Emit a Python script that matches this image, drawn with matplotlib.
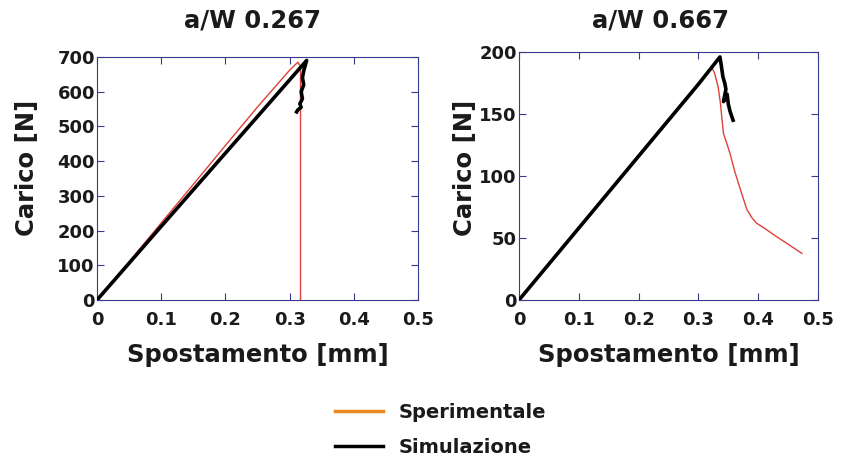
import matplotlib
matplotlib.use("Agg")
import matplotlib.pyplot as plt
from matplotlib.lines import Line2D

plt.rcParams['font.family'] = ['DejaVu Sans']
plt.rcParams['font.weight'] = 'bold'

# a/W 0.267
exp1_x = [0, 0.05, 0.1, 0.15, 0.2, 0.25, 0.3, 0.31, 0.313, 0.317, 0.317]
exp1_y = [0, 110, 222, 333, 445, 556, 662, 680, 685, 672, 0]
sim1_x = [0, 0.1, 0.2, 0.3, 0.3265, 0.322, 0.320, 0.322, 0.318, 0.320, 0.316, 0.318, 0.313, 0.311]
sim1_y = [0, 212, 423, 634, 690, 660, 640, 620, 600, 580, 565, 555, 548, 542]

# a/W 0.667
exp2_x = [0, 0.05, 0.1, 0.2, 0.3, 0.322, 0.327, 0.333, 0.337, 0.339, 0.342, 0.347, 0.353,
          0.36, 0.367, 0.375, 0.381, 0.39, 0.397, 0.41, 0.431, 0.45, 0.473]
exp2_y = [0, 29, 58, 117, 175, 188, 183, 172, 158, 148, 134, 127, 118,
          105, 94, 82, 73, 66, 62, 58, 51, 45, 37.6]
sim2_x = [0, 0.1, 0.2, 0.3, 0.336, 0.338, 0.341, 0.344, 0.346, 0.342, 0.348, 0.350, 0.353, 0.358]
sim2_y = [0, 58, 116, 174, 196, 190, 180, 175, 170, 160, 166, 158, 152, 145]

titles = ['a/W 0.267', 'a/W 0.667']
xticks = [0, 0.1, 0.2, 0.3, 0.4, 0.5]
xticklabels = ['0', '0.1', '0.2', '0.3', '0.4', '0.5']
yticks1 = [0, 100, 200, 300, 400, 500, 600, 700]
yticks2 = [0, 50, 100, 150, 200]
legend_labels = ['Sperimentale', 'Simulazione']

red = '#e0403a'
frame = '#3a3a8c'
text_col = '#1a1a1a'

fig = plt.figure(figsize=(8.42, 4.59), dpi=100)
ax1 = fig.add_axes([97/842, 1-300/459, 321/842, 243/459])
ax2 = fig.add_axes([519/842, 1-300/459, 299/842, 248/459])

setups = [
    (ax1, exp1_x, exp1_y, sim1_x, sim1_y, yticks1, titles[0], 253, -0.218, 0.543, -0.225),
    (ax2, exp2_x, exp2_y, sim2_x, sim2_y, yticks2, titles[1], 661, -0.18, 0.532, -0.22),
]
for ax, ex, ey, sx, sy, yt, title, tx, ylx, yly, xly in setups:
    ax.plot(ex, ey, color=red, lw=1.0, zorder=2)
    ax.plot(sx, sy, color='black', lw=2.6, zorder=3)
    ax.set_xlim(0, 0.5)
    ax.set_ylim(0, yt[-1])
    ax.set_xticks(xticks)
    ax.set_xticklabels(xticklabels)
    ax.set_yticks(yt)
    ax.set_yticklabels([str(v) for v in yt])
    ax.tick_params(direction='in', top=True, right=True, color=frame,
                   length=5, width=0.8, labelsize=13, pad=1.5, labelcolor=text_col)
    ax.tick_params(axis='x', pad=8)
    for lab in ax.get_xticklabels() + ax.get_yticklabels():
        lab.set_fontweight('bold')
    for sp in ax.spines.values():
        sp.set_color(frame)
        sp.set_linewidth(0.8)
    fig.text(tx/842, 1-20/459, title, fontsize=17.5, fontweight='bold',
             ha='center', va='center', color=text_col)
    ax.set_xlabel('Spostamento [mm]', fontsize=17.5, fontweight='bold', color=text_col)
    ax.set_ylabel('Carico [N]', fontsize=17.5, fontweight='bold', color=text_col)
    ax.yaxis.set_label_coords(ylx, yly)
    ax.xaxis.set_label_coords(0.5, xly)
    ax.yaxis.label.set_va('center')
    ax.xaxis.label.set_va('center')

handles = [Line2D([], [], color='#e8891e', lw=2.5),
           Line2D([], [], color='black', lw=2.5)]
fig.legend(handles, legend_labels, loc='center', bbox_to_anchor=(0.523, 1-430/459),
           frameon=False, prop={'weight': 'bold', 'size': 14},
           handlelength=2.5, labelspacing=0.85, handletextpad=0.8,
           labelcolor=text_col)

fig.savefig('out.png', dpi=100)
